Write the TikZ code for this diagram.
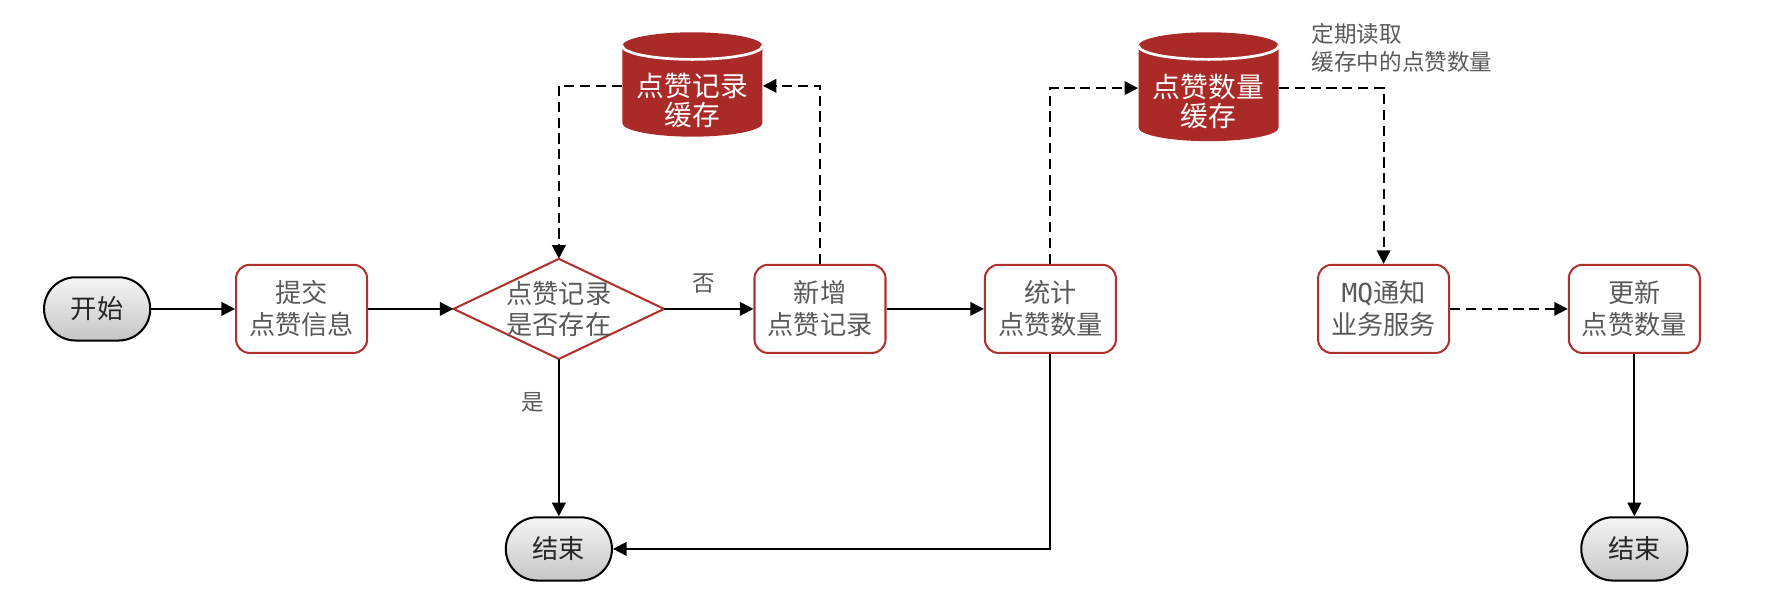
\documentclass[tikz,border=0pt]{standalone}
\usepackage{fontspec}
\setmainfont{Noto Sans CJK SC}
\newfontfamily\monofont{DejaVu Sans Mono}
\usetikzlibrary{arrows.meta,shapes.geometric}
\definecolor{boxred}{HTML}{B0302D}
\definecolor{cylred}{HTML}{A92A27}
\definecolor{txtgray}{HTML}{595959}
\begin{document}
\begin{tikzpicture}[x=0.5pt,y=-0.5pt,
  proc/.style={draw=boxred, line width=0.9pt, rounded corners=6pt, minimum width=58pt, minimum height=39pt, inner sep=0pt, align=center, text=txtgray, font=\fontsize{11.6}{14.2}\selectfont},
  term/.style={draw=black, line width=0.9pt, rounded corners=14pt, minimum width=47pt, minimum height=28pt, inner sep=0pt, top color=gray!8, bottom color=gray!45, text=black!85, font=\fontsize{11.6}{14}\selectfont},
  cyltext/.style={align=center, text=white, font=\fontsize{12.3}{12.8}\selectfont, inner sep=0pt},
  cylanchor/.style={inner sep=0pt, minimum width=62pt, minimum height=47pt},
  lbl/.style={text=txtgray, font=\fontsize{10}{12.5}\selectfont, inner sep=0pt},
  flow/.style={line width=0.9pt, -{Triangle[length=6pt,width=6pt]}},
  dflow/.style={flow, dash pattern=on 4.5pt off 2.5pt},
]
\useasboundingbox (0,0) rectangle (1568,543.6);

% cylinders
\fill[cylred] (551,40.6) -- (551,109) arc[start angle=180,end angle=0,x radius=62,y radius=12] -- (675,40.6) arc[start angle=0,end angle=-180,x radius=62,y radius=12] -- cycle;
\draw[white, line width=1.2pt] (551,40.6) arc[start angle=180,end angle=0,x radius=62,y radius=12];
\fill[cylred] (1008,40.6) -- (1008,113) arc[start angle=180,end angle=0,x radius=62,y radius=12] -- (1132,40.6) arc[start angle=0,end angle=-180,x radius=62,y radius=12] -- cycle;
\draw[white, line width=1.2pt] (1008,40.6) arc[start angle=180,end angle=0,x radius=62,y radius=12];

\node[cylanchor] (c1) at (613,76) {};
\node[cyltext] (c1t) at (613,89) {点赞记录\\缓存};
\node[cylanchor] (c2) at (1070,78) {};
\node[cyltext] (c2t) at (1070,90) {点赞数量\\缓存};

% nodes
\node[term] (start) at (86,273.5) {开始};
\node[proc] (submit) at (267,273.5) {提交\\点赞信息};
\draw[boxred, line width=0.9pt] (401.6,273.5) -- (494.8,229.2) -- (588,273.5) -- (494.8,317.8) -- cycle;
\node[inner sep=0pt, minimum width=93pt, minimum height=44pt] (dia) at (494.8,273.5) {};
\node[align=center, text=txtgray, font=\fontsize{11.6}{13.5}\selectfont, inner sep=0pt] (diat) at (494.8,273.5) {点赞记录\\是否存在};
\node[proc] (add) at (726,273.5) {新增\\点赞记录};
\node[proc] (count) at (930,273.5) {统计\\点赞数量};
\node[proc] (mq) at (1225,273.5) {{\monofont MQ}通知\\业务服务};
\node[proc] (upd) at (1447,273.5) {更新\\点赞数量};
\node[term] (end1) at (494.8,486) {结束};
\node[term] (end2) at (1447,486) {结束};

\node[lbl, anchor=north west, align=left, font=\fontsize{10}{12.6}\selectfont] (note) at (1161,20) {定期读取\\缓存中的点赞数量};
\node[lbl] (no) at (623,251) {否};
\node[lbl] (yes) at (472,356) {是};

\coordinate (k1) at (930,486);

% solid flows
\draw[flow] (start) -- (submit);
\draw[flow] (submit) -- (dia.west);
\draw[flow] (dia.east) -- (add);
\draw[flow] (add) -- (count);
\draw[flow] (dia.south) -- (end1);
\draw[flow] (count.south) -- (k1) -- (end1.east);
\draw[flow] (upd) -- (end2);

% dashed flows
\draw[dflow] (c1.west) -| (dia.north);
\draw[dflow] (add.north) |- (c1.east);
\draw[dflow] (count.north) |- (c2.west);
\draw[dflow] (c2.east) -| (mq.north);
\draw[dflow] (mq) -- (upd);
\end{tikzpicture}
\end{document}
